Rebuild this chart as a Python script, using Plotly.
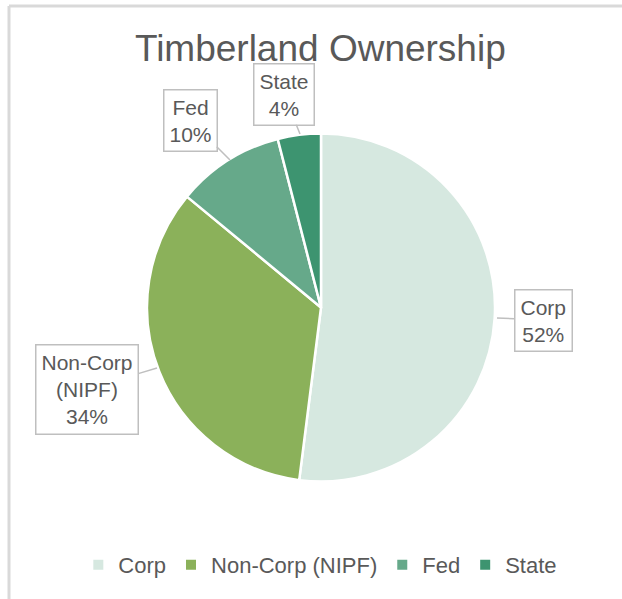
import plotly.graph_objects as go

# data
owners = ["Corp", "Non-Corp (NIPF)", "Fed", "State"]
shares = [52, 34, 10, 4]
callout_text = ["Corp<br>52%", "Non-Corp<br>(NIPF)<br>34%", "Fed<br>10%", "State<br>4%"]
colors = ["#d6e8e0", "#8bb15a", "#66a98a", "#3d9470"]

W, H = 622, 599
FONT = "Liberation Sans, Arial"

fig = go.Figure(go.Pie(
    labels=owners,
    values=shares,
    sort=False,
    direction="clockwise",
    rotation=0,
    textinfo="none",
    marker=dict(colors=colors, line=dict(color="white", width=2.5)),
    domain=dict(x=[147 / W, 495 / W], y=[1 - 482 / H, 1 - 133 / H]),
    hovertemplate="<b>%{label}</b><br>%{percent}<extra></extra>",
))

# callout boxes: (tip x, tip y, box offset ax, ay) in pixels
callout_pos = [
    (497, 318, 46, 2),
    (157, 368, -70, 21),
    (230, 160, -40, -40),
    (300, 134, -16, -40),
]
for txt, (tx, ty, ax, ay) in zip(callout_text, callout_pos):
    fig.add_annotation(
        x=tx / W, y=1 - ty / H, xref="paper", yref="paper",
        text=txt, showarrow=True, arrowhead=0, arrowwidth=1.5,
        arrowcolor="#bfbfbf", ax=ax, ay=ay, standoff=0,
        font=dict(family=FONT, size=21, color="#595959"),
        bgcolor="white", bordercolor="#bfbfbf", borderwidth=1.5, borderpad=5,
        align="center",
    )

# chart frame: only the left and top edges show in the picture
frame = dict(color="#d9d9d9", width=3)
fig.add_shape(type="line", xref="paper", yref="paper",
              x0=9 / W, x1=9 / W, y0=0, y1=1 - 6 / H, line=frame, layer="below")
fig.add_shape(type="line", xref="paper", yref="paper",
              x0=9 / W, x1=1, y0=1 - 6 / H, y1=1 - 6 / H, line=frame, layer="below")

fig.update_layout(
    width=W, height=H,
    margin=dict(l=0, r=0, t=0, b=0),
    paper_bgcolor="white",
    title=dict(text="Timberland Ownership", x=0.515, xanchor="center",
               y=1 - 48 / H, yanchor="middle",
               font=dict(family=FONT, size=37, color="#595959")),
    showlegend=True,
    legend=dict(orientation="h", x=0.515, xanchor="center", y=1 - 565 / H, yanchor="middle",
                font=dict(family=FONT, size=22, color="#595959"),
                itemsizing="constant", traceorder="normal"),
)

fig.write_html("out.html", config={"displayModeBar": False},
               post_script="document.body.style.margin='0';document.body.style.overflow='hidden';")
